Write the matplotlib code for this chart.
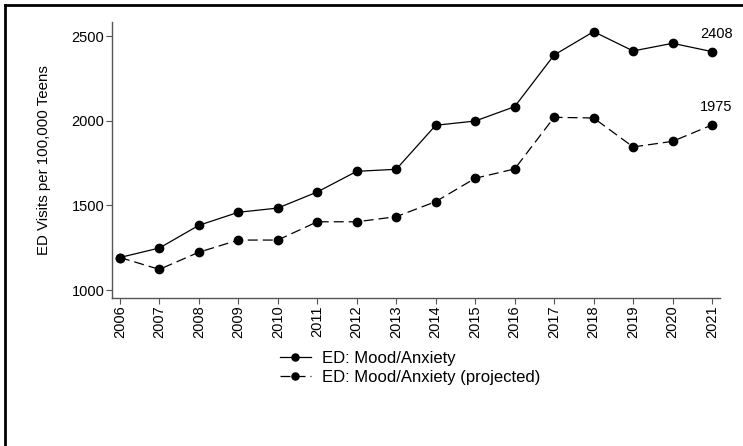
import matplotlib
matplotlib.use('Agg')
import matplotlib.pyplot as plt
from matplotlib.lines import Line2D

plt.rcParams['font.family'] = ['Liberation Sans', 'DejaVu Sans']

years = [2006, 2007, 2008, 2009, 2010, 2011, 2012, 2013,
         2014, 2015, 2016, 2017, 2018, 2019, 2020, 2021]
mood = [1192, 1248, 1382, 1459, 1484, 1579, 1701, 1713,
        1973, 1998, 2083, 2388, 2526, 2412, 2457, 2408]
mood_proj = [1192, 1122, 1223, 1295, 1295, 1403, 1403, 1433,
             1522, 1660, 1715, 2020, 2016, 1845, 1878, 1975]
y_ticks = [1000, 1500, 2000, 2500]

fig = plt.figure(figsize=(7.43, 4.46), dpi=100)
ax = fig.add_axes([0.1507, 0.3318, 0.8183, 0.6189])

ax.plot(years, mood, color='black', lw=0.9, marker='o', ms=6,
        label='ED: Mood/Anxiety')
ax.plot(years, mood_proj, color='black', lw=0.9, marker='o', ms=6,
        dashes=(8, 4), label='ED: Mood/Anxiety (projected)')

# end labels
ax.annotate(str(mood[-1]), (years[-1], mood[-1]), xytext=(3, 8),
            textcoords='offset points', ha='center', va='bottom', fontsize=10.5)
ax.annotate(str(mood_proj[-1]), (years[-1], mood_proj[-1]), xytext=(3, 8),
            textcoords='offset points', ha='center', va='bottom', fontsize=10.5)

ax.set_xlim(2005.80, 2021.2)
ax.set_ylim(952.7, 2583)
ax.set_xticks(years)
ax.set_xticklabels([str(y) for y in years], rotation=90, fontsize=10.5)
ax.set_yticks(y_ticks)
ax.set_yticklabels([str(v) for v in y_ticks], fontsize=10.5)
ax.set_ylabel('ED Visits per 100,000 Teens', fontsize=10.8)
ax.yaxis.set_label_coords(-0.100, 0.5)
for s in ['top', 'right']:
    ax.spines[s].set_visible(False)
for s in ['left', 'bottom']:
    ax.spines[s].set_color('#555555')
    ax.spines[s].set_linewidth(1.0)
ax.tick_params(direction='out', length=4, width=0.8, color='#555555', pad=1.5)

handles, labels = ax.get_legend_handles_labels()
fig.legend(handles, labels, loc='center left', bbox_to_anchor=(0.356, 0.175),
           frameon=False, fontsize=12, handlelength=1.9, labelspacing=0.25,
           handletextpad=0.65, markerscale=0.85)

# frame line on left and top of the figure
fig.add_artist(Line2D([5/743, 5/743], [0, 1 - 5/446], color='black', lw=2,
                      transform=fig.transFigure))
fig.add_artist(Line2D([5/743, 1], [1 - 5/446, 1 - 5/446], color='black', lw=2,
                      transform=fig.transFigure))

fig.savefig('out.png', dpi=100)
